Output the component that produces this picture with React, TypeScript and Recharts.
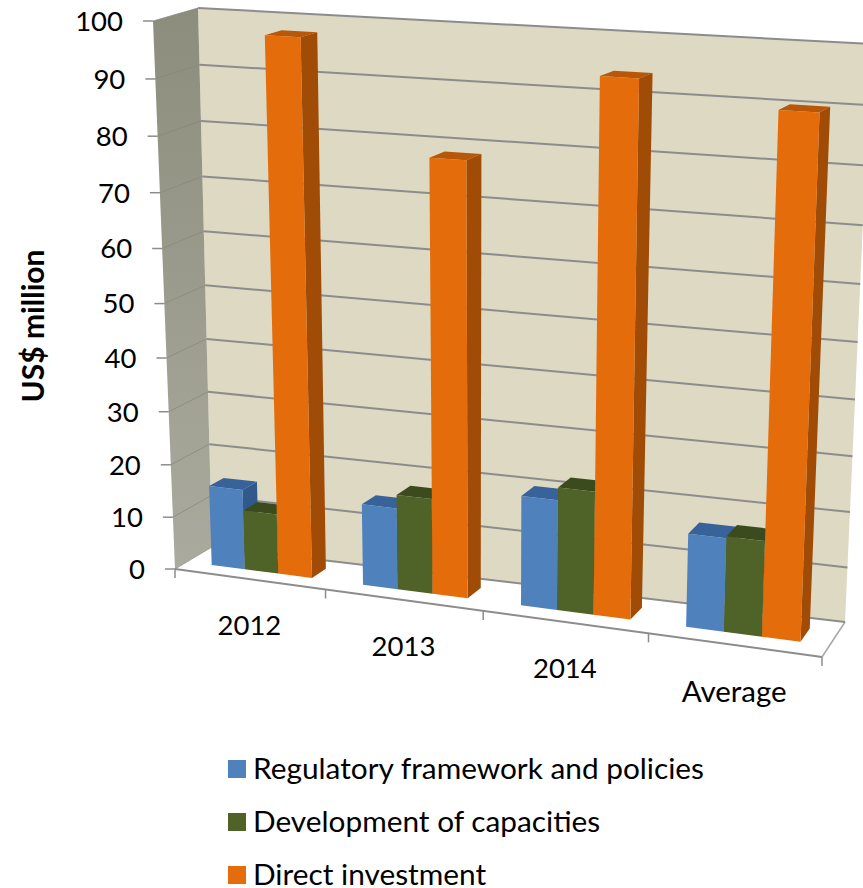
import { BarChart, Bar, XAxis, YAxis, CartesianGrid, ReferenceArea, Legend } from 'recharts';

const categories = ['2012', '2013', '2014', 'Average'];
const regulatory = [15.2, 15.2, 20.2, 16.9];
const capacities = [11.3, 17.7, 22.5, 17.2];
const investment = [97.7, 78.5, 94, 90.2];
const yTicks = [0, 10, 20, 30, 40, 50, 60, 70, 80, 90, 100];

const chartData = categories.map((name, i) => ({
  name,
  regulatory: regulatory[i],
  capacities: capacities[i],
  investment: investment[i],
}));

const WIDTH = 863;
const HEIGHT = 888;
const PLOT = { left: 175, top: 21, width: 647, height: 548 };
const BOTTOM = PLOT.top + PLOT.height;
const LEGEND_ROW = 53;
const FONT = 'Lato, Carlito, Calibri, sans-serif';

const COLORS = { regulatory: '#4f81bd', capacities: '#4f6228', investment: '#e46c0a' };
const SHADES: Record<string, { top: string; side: string }> = {
  '#4f81bd': { top: '#38639a', side: '#305a8c' },
  '#4f6228': { top: '#3c4b1d', side: '#37441a' },
  '#e46c0a': { top: '#b95708', side: '#a04c06' },
};

type Pt = [number, number];

// unit square -> quad, corners given as (0,0) (1,0) (1,1) (0,1)
function quadMap(p0: Pt, p1: Pt, p2: Pt, p3: Pt) {
  const sx = p0[0] - p1[0] + p2[0] - p3[0];
  const sy = p0[1] - p1[1] + p2[1] - p3[1];
  const dx1 = p1[0] - p2[0];
  const dx2 = p3[0] - p2[0];
  const dy1 = p1[1] - p2[1];
  const dy2 = p3[1] - p2[1];
  const det = dx1 * dy2 - dx2 * dy1;
  const g = (sx * dy2 - dx2 * sy) / det;
  const h = (dx1 * sy - sx * dy1) / det;
  const a = p1[0] - p0[0] + g * p1[0];
  const b = p3[0] - p0[0] + h * p3[0];
  const d = p1[1] - p0[1] + g * p1[1];
  const e = p3[1] - p0[1] + h * p3[1];
  return (u: number, v: number): Pt => {
    const w = g * u + h * v + 1;
    return [(a * u + b * v + p0[0]) / w, (d * u + e * v + p0[1]) / w];
  };
}

// front and back planes of the 3D box
const frontPlane = quadMap([175, 569], [822, 657], [844, 57], [153, 21]);
const backPlane = quadMap([212, 547], [845, 622], [871, 44], [198, 8]);

const DEPTH_NEAR = 0.33;
const DEPTH_FAR = 0.71;

function project(u: number, v: number, depth: number): Pt {
  const f = frontPlane(u, v);
  const b = backPlane(u, v);
  return [f[0] + (b[0] - f[0]) * depth, f[1] + (b[1] - f[1]) * depth];
}

const toU = (x: number) => (x - PLOT.left) / PLOT.width;
const toV = (y: number) => (BOTTOM - y) / PLOT.height;
const points = (pts: Pt[]) => pts.map((p) => `${p[0]},${p[1]}`).join(' ');

function Box(props: any) {
  const { x, y, width, fill } = props;
  const u0 = toU(x);
  const u1 = toU(x + width);
  const v = toV(y);
  const shade = SHADES[fill];
  return (
    <g>
      <polygon
        points={points([project(u0, v, DEPTH_NEAR), project(u1, v, DEPTH_NEAR), project(u1, v, DEPTH_FAR), project(u0, v, DEPTH_FAR)])}
        fill={shade.top}
      />
      <polygon
        points={points([project(u1, 0, DEPTH_NEAR), project(u1, 0, DEPTH_FAR), project(u1, v, DEPTH_FAR), project(u1, v, DEPTH_NEAR)])}
        fill={shade.side}
      />
      <polygon
        points={points([project(u0, 0, DEPTH_NEAR), project(u1, 0, DEPTH_NEAR), project(u1, v, DEPTH_NEAR), project(u0, v, DEPTH_NEAR)])}
        fill={fill}
      />
    </g>
  );
}

// side wall, back wall, floor and the category tick marks
function Walls() {
  const boundaries = categories.map((_, i) => i / categories.length).concat(1);
  return (
    <g>
      <polygon points={points([backPlane(0, 0), backPlane(1, 0), backPlane(1, 1), backPlane(0, 1)])} fill="#ddd9c3" />
      <polygon points={points([frontPlane(0, 0), backPlane(0, 0), backPlane(0, 1), frontPlane(0, 1)])} fill="url(#sideWall)" />
      <polygon points={points([frontPlane(0, 0), frontPlane(1, 0), backPlane(1, 0), backPlane(0, 0)])} fill="#ffffff" />
      <line x1={frontPlane(1, 0)[0]} y1={frontPlane(1, 0)[1]} x2={backPlane(1, 0)[0]} y2={backPlane(1, 0)[1]} stroke="#a6a6a6" strokeWidth={1.5} />
      <line x1={frontPlane(0, 0)[0]} y1={frontPlane(0, 0)[1]} x2={frontPlane(1, 0)[0]} y2={frontPlane(1, 0)[1]} stroke="#8c8c8c" strokeWidth={2} />
      {boundaries.map((u) => {
        const p = frontPlane(u, 0);
        return <line key={u} x1={p[0]} y1={p[1]} x2={p[0]} y2={p[1] + 9} stroke="#8c8c8c" strokeWidth={1.5} />;
      })}
    </g>
  );
}

function GridLine(props: any) {
  const v = toV(props.y1);
  const f = frontPlane(0, v);
  const b0 = backPlane(0, v);
  const b1 = backPlane(1, v);
  return (
    <g key={props.key}>
      <line x1={f[0]} y1={f[1]} x2={b0[0]} y2={b0[1]} stroke="#85857a" strokeOpacity={0.7} strokeWidth={1} />
      <line x1={b0[0]} y1={b0[1]} x2={b1[0]} y2={b1[1]} stroke="#8c8c8c" strokeWidth={2} />
    </g>
  );
}

function ValueTick(props: any) {
  const v = props.payload.value / 100;
  const p = frontPlane(0, v);
  return (
    <g>
      <line x1={p[0] - 10} y1={p[1]} x2={p[0]} y2={p[1]} stroke="#8c8c8c" strokeWidth={1.5} />
      <text x={p[0] - 30} y={p[1]} dy="0.36em" textAnchor="end" fontSize={27.5} fontFamily={FONT} fill="#000000">
        {props.payload.value}
      </text>
    </g>
  );
}

function CategoryTick(props: any) {
  const p = frontPlane(toU(props.x), 0);
  const size = props.payload.value === 'Average' ? 29.5 : 27.5;
  return (
    <text x={p[0]} y={p[1] + 46} dy="0.36em" textAnchor="middle" fontSize={size} fontFamily={FONT} fill="#000000">
      {props.payload.value}
    </text>
  );
}

function AxisTitle() {
  return (
    <text
      transform="translate(33 326) rotate(-90)"
      dy="0.36em"
      textAnchor="middle"
      fontSize={30}
      fontWeight={700}
      fontFamily={FONT}
      fill="#000000"
    >
      US$ million
    </text>
  );
}

function LegendList(props: any) {
  return (
    <div style={{ fontFamily: FONT, fontSize: 29.8, color: '#000000' }}>
      {props.payload.map((item: any) => (
        <div key={item.value} style={{ display: 'flex', alignItems: 'center', height: LEGEND_ROW }}>
          <span style={{ width: 18, height: 18, background: item.color, marginRight: 7 }} />
          <span style={{ position: 'relative', top: -2 }}>{item.value}</span>
        </div>
      ))}
    </div>
  );
}

export default function App() {
  return (
    <div style={{ position: 'absolute', left: 0, top: 0, width: WIDTH, height: HEIGHT }}>
      <BarChart
        width={WIDTH}
        height={HEIGHT}
        data={chartData}
        margin={{ top: PLOT.top, right: WIDTH - PLOT.left - PLOT.width, bottom: 0, left: 0 }}
        barCategoryGap="16.6%"
        barGap={0}
      >
        <defs>
          <linearGradient id="sideWall" x1="0" y1="0" x2="0" y2="1">
            <stop offset="0%" stopColor="#8d8d7d" />
            <stop offset="100%" stopColor="#aaaa9e" />
          </linearGradient>
        </defs>
        <XAxis
          dataKey="name"
          height={HEIGHT - BOTTOM - LEGEND_ROW * 3}
          axisLine={false}
          tickLine={false}
          tick={CategoryTick}
          interval={0}
        />
        <YAxis
          width={PLOT.left}
          domain={[0, 100]}
          ticks={yTicks}
          axisLine={false}
          tickLine={false}
          tick={ValueTick}
          interval={0}
          label={<AxisTitle />}
        />
        <ReferenceArea y1={0} y2={100} shape={Walls} ifOverflow="visible" zIndex={-200} />
        <CartesianGrid vertical={false} horizontal={GridLine} zIndex={-100} />
        <Bar dataKey="regulatory" name="Regulatory framework and policies" fill={COLORS.regulatory} shape={Box} isAnimationActive={false} />
        <Bar dataKey="capacities" name="Development of capacities" fill={COLORS.capacities} shape={Box} isAnimationActive={false} />
        <Bar dataKey="investment" name="Direct investment" fill={COLORS.investment} shape={Box} isAnimationActive={false} />
        <Legend
          layout="vertical"
          content={LegendList}
          itemSorter={null}
          wrapperStyle={{ left: 228, top: 742.5, bottom: 'auto', width: 520 }}
        />
      </BarChart>
    </div>
  );
}
